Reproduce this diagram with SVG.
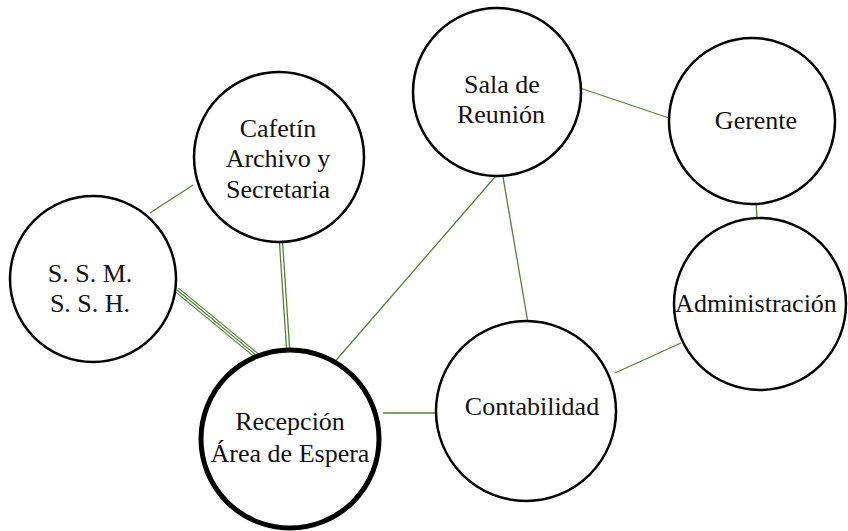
<svg xmlns="http://www.w3.org/2000/svg" width="848" height="531" viewBox="0 0 848 531">
<style>
.n{fill:#fff;stroke:#000;stroke-width:2.5}
.thick{stroke-width:5}
.e{stroke:#548235;stroke-width:1.3;fill:none}
text{font-family:"Liberation Serif","Times New Roman",serif;font-size:26px;fill:#111;text-anchor:middle}
</style>
<rect width="848" height="531" fill="#fff"/>
<g id="connectors">
<line class="e" x1="150" y1="213" x2="193" y2="185"/>
<line class="e" x1="580" y1="88" x2="669" y2="118"/>
<line class="e" x1="756" y1="203" x2="757" y2="218"/>
<line class="e" x1="615" y1="373" x2="681" y2="343"/>
<line class="e" x1="383" y1="413" x2="435" y2="413"/>
<line class="e" x1="495" y1="177" x2="332" y2="365"/>
<line class="e" x1="503" y1="177" x2="528" y2="323"/>
<g id="double">
<line x1="281" y1="242" x2="288" y2="348" stroke="#548235" stroke-width="4.4"/>
<line x1="281" y1="242" x2="288" y2="348" stroke="#fff" stroke-width="1.8"/>
</g>
<g id="triple">
<line x1="177" y1="290" x2="262" y2="360" stroke="#548235" stroke-width="6"/>
<line x1="177" y1="290" x2="262" y2="360" stroke="#fff" stroke-width="3.6"/>
<line x1="177" y1="290" x2="262" y2="360" stroke="#548235" stroke-width="1.2"/>
</g>
</g>
<g id="sala">
<circle class="n" cx="497" cy="92" r="84"/>
<text x="502" y="93">Sala de</text>
<text x="501" y="123">Reunión</text>
</g>
<g id="gerente">
<circle class="n" cx="752" cy="121" r="83"/>
<text x="756" y="129">Gerente</text>
</g>
<g id="administracion">
<circle class="n" cx="760" cy="304" r="86"/>
<text x="756" y="312">Administración</text>
</g>
<g id="contabilidad">
<circle class="n" cx="526" cy="411" r="90"/>
<text x="532" y="415">Contabilidad</text>
</g>
<g id="cafetin">
<circle class="n" cx="279" cy="157" r="85"/>
<text x="278" y="137">Cafetín</text>
<text x="278" y="167">Archivo y</text>
<text x="278" y="198">Secretaria</text>
</g>
<g id="ssm">
<circle class="n" cx="93" cy="279" r="83"/>
<text x="90" y="282">S. S. M.</text>
<text x="90" y="312">S. S. H.</text>
</g>
<g id="recepcion">
<circle class="n thick" cx="290" cy="439" r="89"/>
<text x="290" y="430">Recepción</text>
<text x="290" y="462">Área de Espera</text>
</g>
</svg>
